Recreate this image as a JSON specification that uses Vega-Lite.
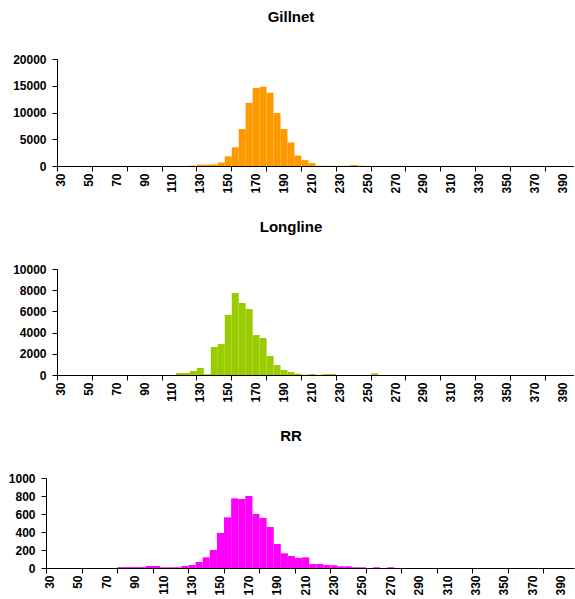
{
  "$schema": "https://vega.github.io/schema/vega-lite/v6.json",
  "padding": {"top": 10, "left": 0, "right": 0, "bottom": 0},
  "background": "white",
  "datasets": {
    "gillnet": [
      {"len": 125, "n": 80}, {"len": 130, "n": 250}, {"len": 135, "n": 250}, {"len": 140, "n": 300},
      {"len": 145, "n": 650}, {"len": 150, "n": 1800}, {"len": 155, "n": 3500}, {"len": 160, "n": 6900},
      {"len": 165, "n": 11800}, {"len": 170, "n": 14600}, {"len": 175, "n": 14800}, {"len": 180, "n": 13700},
      {"len": 185, "n": 9900}, {"len": 190, "n": 6900}, {"len": 195, "n": 4400}, {"len": 200, "n": 1950},
      {"len": 205, "n": 1100}, {"len": 210, "n": 550}, {"len": 215, "n": 60}, {"len": 220, "n": 50},
      {"len": 225, "n": 40}, {"len": 230, "n": 40}, {"len": 235, "n": 40}, {"len": 240, "n": 200},
      {"len": 245, "n": 40}
    ],
    "longline": [
      {"len": 115, "n": 190}, {"len": 120, "n": 190}, {"len": 125, "n": 380}, {"len": 130, "n": 660},
      {"len": 135, "n": 80}, {"len": 140, "n": 2640}, {"len": 145, "n": 2920}, {"len": 150, "n": 5660},
      {"len": 155, "n": 7730}, {"len": 160, "n": 6790}, {"len": 165, "n": 6220}, {"len": 170, "n": 3770},
      {"len": 175, "n": 3490}, {"len": 180, "n": 1790}, {"len": 185, "n": 940}, {"len": 190, "n": 470},
      {"len": 195, "n": 280}, {"len": 200, "n": 125}, {"len": 205, "n": 20}, {"len": 210, "n": 90},
      {"len": 215, "n": 10}, {"len": 220, "n": 90}, {"len": 225, "n": 90}, {"len": 255, "n": 150}
    ],
    "rr": [
      {"len": 80, "n": 10}, {"len": 85, "n": 10}, {"len": 90, "n": 10}, {"len": 95, "n": 10},
      {"len": 100, "n": 22}, {"len": 105, "n": 22}, {"len": 110, "n": 8}, {"len": 115, "n": 8},
      {"len": 120, "n": 8}, {"len": 125, "n": 22}, {"len": 130, "n": 33}, {"len": 135, "n": 67},
      {"len": 140, "n": 119}, {"len": 145, "n": 200}, {"len": 150, "n": 389}, {"len": 155, "n": 563},
      {"len": 160, "n": 774}, {"len": 165, "n": 767}, {"len": 170, "n": 800}, {"len": 175, "n": 600},
      {"len": 180, "n": 556}, {"len": 185, "n": 456}, {"len": 190, "n": 267}, {"len": 195, "n": 163},
      {"len": 200, "n": 133}, {"len": 205, "n": 111}, {"len": 210, "n": 119}, {"len": 215, "n": 44},
      {"len": 220, "n": 44}, {"len": 225, "n": 33}, {"len": 230, "n": 30}, {"len": 235, "n": 19},
      {"len": 240, "n": 19}, {"len": 245, "n": 8}, {"len": 250, "n": 8}, {"len": 260, "n": 8},
      {"len": 270, "n": 8}
    ]
  },
  "config": {
    "view": {"stroke": null},
    "font": "Liberation Sans",
    "title": {"fontSize": 15, "fontWeight": "bold", "font": "Liberation Sans", "color": "black", "offset": 28},
    "axis": {
      "labelFont": "Liberation Sans",
      "labelFontWeight": "bold",
      "labelFontSize": 12,
      "labelColor": "black",
      "domainColor": "black",
      "tickColor": "black",
      "grid": false,
      "title": null,
      "tickSize": 5
    }
  },
  "spacing": 26,
  "vconcat": [
    {
      "title": {"text": "Gillnet", "dx": -19},
      "width": 528,
      "height": 107,
      "layer": [
        {
          "data": {"name": "gillnet"},
          "mark": {"type": "bar", "color": "#FF9900", "binSpacing": 0},
          "encoding": {
            "x": {
              "field": "len", "type": "quantitative", "bin": {"binned": true, "step": 5},
              "scale": {"domain": [22.11, 400.9], "nice": false, "zero": false},
              "axis": {
                "domain": false,
                "values": [30, 32.5, 52.5, 55, 72.5, 80, 92.5, 105, 112.5, 130, 132.5, 152.5, 155, 172.5, 180, 192.5, 205, 212.5, 230, 232.5, 252.5, 255, 272.5, 280, 292.5, 305, 312.5, 330, 332.5, 352.5, 355, 372.5, 380, 392.5],
                "tickOpacity": {"condition": {"test": "(datum.value - 30) % 25 == 0", "value": 1}, "value": 0},
                "labelExpr": "(datum.value - 32.5) % 20 == 0 ? format(datum.value - 2.5, 'd') : ''",
                "labelAngle": 270, "labelAlign": "right", "labelBaseline": "middle",
                "labelOverlap": false, "labelFlush": false, "labelBound": false, "labelPadding": 2
              }
            },
            "y": {
              "field": "n", "type": "quantitative",
              "scale": {"domain": [0, 20000], "nice": false},
              "axis": {"values": [0, 5000, 10000, 15000, 20000], "format": "d", "labelPadding": 6, "offset": -11}
            }
          }
        },
        {
          "data": {"values": [{"a": 0}]},
          "mark": {"type": "rule", "color": "black", "strokeWidth": 1, "yOffset": 0.5},
          "encoding": {
            "x": {
              "datum": 30, "type": "quantitative",
              "scale": {"domain": [22.11, 400.9], "nice": false, "zero": false},
              "axis": {
                "domain": false,
                "values": [30, 32.5, 52.5, 55, 72.5, 80, 92.5, 105, 112.5, 130, 132.5, 152.5, 155, 172.5, 180, 192.5, 205, 212.5, 230, 232.5, 252.5, 255, 272.5, 280, 292.5, 305, 312.5, 330, 332.5, 352.5, 355, 372.5, 380, 392.5],
                "tickOpacity": {"condition": {"test": "(datum.value - 30) % 25 == 0", "value": 1}, "value": 0},
                "labelExpr": "(datum.value - 32.5) % 20 == 0 ? format(datum.value - 2.5, 'd') : ''",
                "labelAngle": 270, "labelAlign": "right", "labelBaseline": "middle",
                "labelOverlap": false, "labelFlush": false, "labelBound": false, "labelPadding": 2
              }
            },
            "x2": {"datum": 400.9},
            "y": {
              "datum": 0, "type": "quantitative",
              "scale": {"domain": [0, 20000], "nice": false},
              "axis": {"values": [0, 5000, 10000, 15000, 20000], "format": "d", "labelPadding": 6, "offset": -11}
            }
          }
        }
      ]
    },
    {
      "title": {"text": "Longline", "dx": -19},
      "width": 528,
      "height": 106,
      "layer": [
        {
          "data": {"name": "longline"},
          "mark": {"type": "bar", "color": "#99CC00", "binSpacing": 0},
          "encoding": {
            "x": {
              "field": "len", "type": "quantitative", "bin": {"binned": true, "step": 5},
              "scale": {"domain": [22.11, 400.9], "nice": false, "zero": false},
              "axis": {
                "domain": false,
                "values": [30, 32.5, 52.5, 55, 72.5, 80, 92.5, 105, 112.5, 130, 132.5, 152.5, 155, 172.5, 180, 192.5, 205, 212.5, 230, 232.5, 252.5, 255, 272.5, 280, 292.5, 305, 312.5, 330, 332.5, 352.5, 355, 372.5, 380, 392.5],
                "tickOpacity": {"condition": {"test": "(datum.value - 30) % 25 == 0", "value": 1}, "value": 0},
                "labelExpr": "(datum.value - 32.5) % 20 == 0 ? format(datum.value - 2.5, 'd') : ''",
                "labelAngle": 270, "labelAlign": "right", "labelBaseline": "middle",
                "labelOverlap": false, "labelFlush": false, "labelBound": false, "labelPadding": 2
              }
            },
            "y": {
              "field": "n", "type": "quantitative",
              "scale": {"domain": [0, 10000], "nice": false},
              "axis": {"values": [0, 2000, 4000, 6000, 8000, 10000], "format": "d", "labelPadding": 6, "offset": -11}
            }
          }
        },
        {
          "data": {"values": [{"a": 0}]},
          "mark": {"type": "rule", "color": "black", "strokeWidth": 1, "yOffset": 0.5},
          "encoding": {
            "x": {
              "datum": 30, "type": "quantitative",
              "scale": {"domain": [22.11, 400.9], "nice": false, "zero": false},
              "axis": {
                "domain": false,
                "values": [30, 32.5, 52.5, 55, 72.5, 80, 92.5, 105, 112.5, 130, 132.5, 152.5, 155, 172.5, 180, 192.5, 205, 212.5, 230, 232.5, 252.5, 255, 272.5, 280, 292.5, 305, 312.5, 330, 332.5, 352.5, 355, 372.5, 380, 392.5],
                "tickOpacity": {"condition": {"test": "(datum.value - 30) % 25 == 0", "value": 1}, "value": 0},
                "labelExpr": "(datum.value - 32.5) % 20 == 0 ? format(datum.value - 2.5, 'd') : ''",
                "labelAngle": 270, "labelAlign": "right", "labelBaseline": "middle",
                "labelOverlap": false, "labelFlush": false, "labelBound": false, "labelPadding": 2
              }
            },
            "x2": {"datum": 400.9},
            "y": {
              "datum": 0, "type": "quantitative",
              "scale": {"domain": [0, 10000], "nice": false},
              "axis": {"values": [0, 2000, 4000, 6000, 8000, 10000], "format": "d", "labelPadding": 6, "offset": -11}
            }
          }
        }
      ]
    },
    {
      "title": {"text": "RR", "dx": -19},
      "data": {"name": "rr"},
      "width": 528,
      "height": 90,
      "mark": {"type": "bar", "color": "#FF00FF", "binSpacing": 0},
      "encoding": {
        "x": {
          "field": "len", "type": "quantitative", "bin": {"binned": true, "step": 5},
          "scale": {"domain": [30, 401.8], "nice": false, "zero": false},
          "axis": {
            "values": [30, 32.5, 52.5, 55, 72.5, 80, 92.5, 105, 112.5, 130, 132.5, 152.5, 155, 172.5, 180, 192.5, 205, 212.5, 230, 232.5, 252.5, 255, 272.5, 280, 292.5, 305, 312.5, 330, 332.5, 352.5, 355, 372.5, 380, 392.5],
            "tickOpacity": {"condition": {"test": "(datum.value - 30) % 25 == 0", "value": 1}, "value": 0},
            "labelExpr": "(datum.value - 32.5) % 20 == 0 ? format(datum.value - 2.5, 'd') : ''",
            "labelAngle": 270, "labelAlign": "right", "labelBaseline": "middle",
            "labelOverlap": false, "labelFlush": false, "labelBound": false, "labelPadding": 2
          }
        },
        "y": {
          "field": "n", "type": "quantitative",
          "scale": {"domain": [0, 1000], "nice": false},
          "axis": {"values": [0, 200, 400, 600, 800, 1000], "format": "d", "labelPadding": 6, "minExtent": 46, "maxExtent": 46}
        }
      }
    }
  ]
}
